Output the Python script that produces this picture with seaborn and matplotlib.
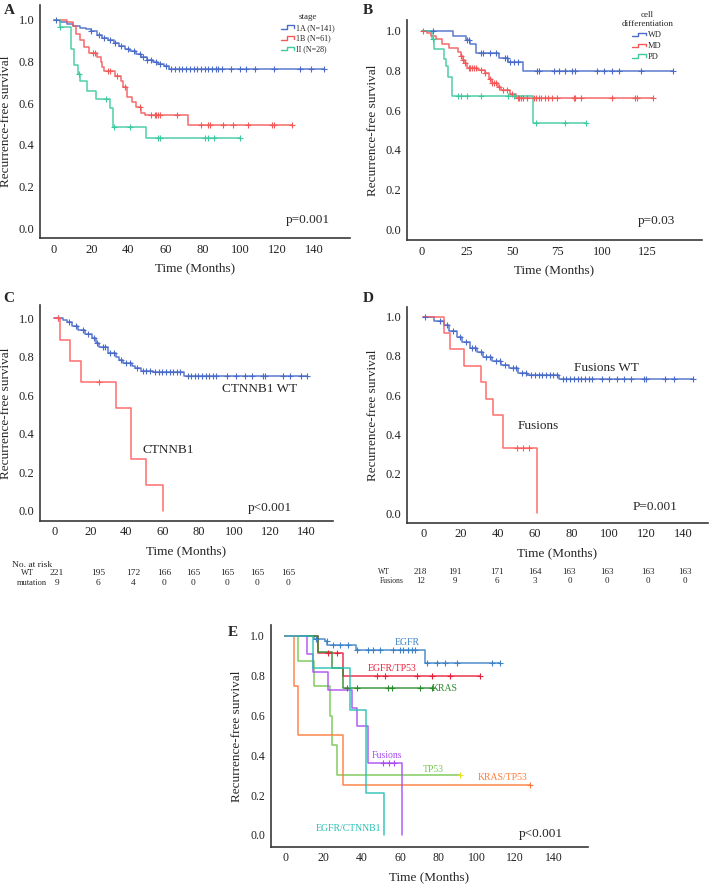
import numpy as np
import pandas as pd
import matplotlib
matplotlib.use("Agg")
import matplotlib.pyplot as plt
import seaborn as sns
from matplotlib.lines import Line2D
from matplotlib.legend_handler import HandlerBase

# ---------------- data ----------------
# Panel A: stage
a_1a_t = [0, 3, 7, 10, 14, 17, 20, 23, 26, 29, 32, 35, 38, 41, 44, 47, 50, 53, 56, 59, 62]
a_1a_s = [1.0, 0.99, 0.98, 0.97, 0.96, 0.955, 0.945, 0.93, 0.915, 0.905, 0.89, 0.875,
          0.86, 0.85, 0.835, 0.82, 0.81, 0.80, 0.79, 0.78, 0.765]
a_1a_cens = [1, 20, 24, 27, 30, 33, 36, 40, 43, 46, 48, 50, 52, 55, 57, 60, 63, 65, 67, 69,
             71, 73, 75, 77, 79, 81, 83, 85, 87, 88, 90, 95, 100, 103, 108, 118, 132, 138, 145]
a_1b_t = [0, 7, 10, 12, 14, 16, 19, 23, 25, 26, 27, 33, 36, 37, 39, 42, 44, 47, 49, 72]
a_1b_s = [1.0, 0.99, 0.97, 0.935, 0.905, 0.87, 0.84, 0.82, 0.80, 0.775, 0.755, 0.73, 0.705,
          0.68, 0.63, 0.605, 0.58, 0.555, 0.545, 0.495]
a_1b_cens = [21, 22, 29, 30, 34, 38, 46, 52, 54, 55, 56, 57, 66, 79, 83, 84, 91, 96, 104,
             117, 118, 128]
a_2_t = [0, 3, 9.3, 10.6, 13, 14, 17.8, 22.8, 30, 31.8, 49.4]
a_2_s = [1.0, 0.965, 0.86, 0.785, 0.74, 0.705, 0.66, 0.62, 0.575, 0.485, 0.435]
a_2_cens = [3, 13.5, 28, 32, 41, 56, 57, 81, 83, 86, 100]
a_labels = ["1A (N=141)", "1B (N=61)", "II (N=28)"]
a_ends = [145, 128, 100]

# Panel B: cell differentiation
b_wd_t = [0, 17.5, 24.5, 27, 30, 42.5, 48, 56]
b_wd_s = [1.0, 0.975, 0.955, 0.935, 0.89, 0.865, 0.84, 0.797]
b_wd_cens = [6, 25, 26, 33, 34, 38, 41, 46, 47, 49, 51, 53, 64, 65, 73, 76, 79, 83, 85, 97,
             101, 105, 109, 121, 139]
b_md_t = [0, 3, 5, 8, 11, 15, 20, 22, 23, 24, 25, 31, 35, 37, 39, 42, 44, 49, 52]
b_md_s = [1.0, 0.99, 0.975, 0.96, 0.935, 0.915, 0.895, 0.875, 0.855, 0.835, 0.81, 0.80,
          0.785, 0.755, 0.735, 0.718, 0.70, 0.68, 0.66]
b_md_cens = [1, 22, 23, 24, 26, 27, 28, 29, 30, 33, 35, 38, 39, 40, 41, 43, 45, 47, 50, 53,
             54, 55, 56, 58, 62, 63, 65, 66, 68, 70, 72, 75, 84, 85, 88, 105, 118, 119, 128]
b_pd_t = [0, 5.5, 7, 12.4, 13.3, 14.8, 16.6, 61.5]
b_pd_s = [1.0, 0.96, 0.91, 0.86, 0.82, 0.765, 0.67, 0.537]
b_pd_cens = [6, 20, 22, 25, 33, 48, 51, 63, 79, 91]
b_labels = ["WD", "MD", "PD"]
b_ends = [139, 128, 91]

# Panel C: CTNNB1
c_wt_t = [0, 5, 7, 10, 13, 17, 21, 23, 25, 30, 34, 36, 38, 43, 45, 48, 55, 72]
c_wt_s = [1.0, 0.99, 0.98, 0.96, 0.94, 0.92, 0.90, 0.87, 0.85, 0.82, 0.80, 0.785, 0.77,
          0.752, 0.74, 0.728, 0.72, 0.70]
c_wt_cens = [2, 8, 12, 16, 19, 22, 24, 27, 28, 31, 33, 37, 40, 42, 46, 49, 51, 53, 56, 58,
             60, 62, 64, 66, 68, 70, 74, 76, 78, 80, 82, 84, 86, 88, 90, 96, 101, 106, 110,
             116, 117, 127, 131, 137, 140]
c_mut_t = [0, 3, 9, 15, 34, 42.5, 51, 60.5]
c_mut_s = [1.0, 0.889, 0.778, 0.667, 0.533, 0.267, 0.133, 0.0]
c_mut_cens = [2, 25]
c_risk_wt = [221, 195, 172, 166, 165, 165, 165, 165]
c_risk_mut = [9, 6, 4, 0, 0, 0, 0, 0]

# Panel D: fusions
d_wt_t = [0, 6, 11, 14, 18, 21, 25, 29, 32, 37, 42, 46, 51, 56, 73]
d_wt_s = [1.0, 0.98, 0.958, 0.925, 0.895, 0.873, 0.84, 0.822, 0.797, 0.775, 0.755, 0.737,
          0.715, 0.703, 0.685]
d_wt_cens = [1, 9, 13, 16, 20, 23, 26, 28, 31, 34, 36, 39, 41, 44, 48, 50, 53, 55, 58, 60,
             62, 64, 66, 68, 70, 72, 75, 77, 79, 81, 83, 85, 87, 89, 91, 96, 100, 104, 108,
             112, 119, 120, 130, 135, 145]
d_fus_t = [0, 11.3, 14.4, 22, 31, 33.7, 37.3, 42.7, 61]
d_fus_s = [1.0, 0.917, 0.833, 0.75, 0.667, 0.583, 0.5, 0.333, 0.0]
d_fus_cens = [50.6, 53.9, 56.9]
d_risk_wt = [218, 191, 171, 164, 163, 163, 163, 163]
d_risk_fus = [12, 9, 6, 3, 0, 0, 0, 0]

# Panel E: mutation groups
e_egfr_t = [0, 15, 21, 22, 37, 73]
e_egfr_s = [1.0, 0.985, 0.973, 0.955, 0.93, 0.864]
e_egfr_cens = [16, 21.7, 25, 28.7, 33, 37.4, 43.5, 46, 49.6, 56.5, 60, 61.7, 64.3, 66, 67.8,
               73.9, 79, 83.5, 89.6, 107.8, 112]
e_et_t = [0, 17.4, 30.4]
e_et_s = [1.0, 0.913, 0.80]
e_et_cens = [22.6, 27, 47.8, 52.2, 68.7, 76.5, 86, 101.7]
e_kras_t = [0, 17.4, 24.3, 30.4]
e_kras_s = [1.0, 0.92, 0.84, 0.737]
e_kras_cens = [32.2, 37.4, 53.9, 55.7, 70.4, 76.5]
e_tp53_t = [0, 7, 15, 23.5, 24.5, 27]
e_tp53_s = [1.0, 0.875, 0.75, 0.6, 0.45, 0.30]
e_tp53_cens = [91]
e_kt_t = [0, 4.9, 7, 30]
e_kt_s = [1.0, 0.75, 0.5, 0.25]
e_kt_cens = [127.8]
e_fus_t = [0, 11.3, 14.8, 22.6, 34.8, 37.4, 43.5, 60.9]
e_fus_s = [1.0, 0.909, 0.818, 0.727, 0.636, 0.545, 0.364, 0.0]
e_fus_cens = [51, 54, 57]
e_ec_t = [0, 14.8, 34, 42.3, 51.8]
e_ec_s = [1.0, 0.84, 0.63, 0.21, 0.0]
e_ec_cens = []
e_labels = ["EGFR", "EGFR/TP53", "KRAS", "TP53", "KRAS/TP53", "Fusions", "EGFR/CTNNB1"]
e_ends = [112, 101.7, 76.5, 91, 127.8, None, None]

# ---------------- styling ----------------
sns.set_style("white")
plt.rcParams["font.family"] = ["Liberation Serif", "DejaVu Serif"]
plt.rcParams["axes.edgecolor"] = "#3a3a3a"

BLUE, RED, GREEN = "#4a6cc8", "#f25a5a", "#3ec9a0"
e_colors = ["#3c82c8", "#e8203c", "#2e8a2e", "#74c850", "#ff7a3a", "#a84ef0", "#26c0b2"]

W, H = 709, 885
fig = plt.figure(figsize=(W / 100, H / 100), dpi=100)


def px_axes(left, top, right, bottom):
    return fig.add_axes([left / W, 1 - bottom / H, (right - left) / W, (bottom - top) / H])


def draw_km(ax, curves, palette, lw=1.1, cens_palette=None):
    rows, crows = [], []
    for name, t, s, end, cens in curves:
        tt = list(t) + ([end] if end is not None else [])
        ss = list(s) + ([s[-1]] if end is not None else [])
        rows += [(name, a, b) for a, b in zip(tt, ss)]
        idx = np.searchsorted(t, cens, side="right") - 1
        crows += [(name, c, s[i]) for c, i in zip(cens, idx)]
    df = pd.DataFrame(rows, columns=["group", "time", "surv"])
    cf = pd.DataFrame(crows, columns=["group", "time", "surv"])
    sns.lineplot(data=df, x="time", y="surv", hue="group", palette=palette,
                 estimator=None, sort=False, drawstyle="steps-post", lw=lw,
                 alpha=0.9, legend=False, ax=ax)
    if len(cf):
        for name, g in cf.groupby("group", sort=False):
            col = (cens_palette or palette)[name]
            ax.scatter(g["time"], g["surv"], marker="+", s=22, color=col, linewidths=0.8,
                       zorder=3)


def style_ax(ax, xlim, ylim, xticks, ylabel_pad=5):
    ax.set_xlim(*xlim)
    ax.set_ylim(*ylim)
    ax.set_xticks(xticks)
    ax.set_yticks([0, 0.2, 0.4, 0.6, 0.8, 1.0])
    ax.set_yticklabels(["0.0", "0.2", "0.4", "0.6", "0.8", "1.0"])
    ax.tick_params(length=0, labelsize=9, pad=4, colors="#222222")
    ax.set_xlabel("Time (Months)", fontsize=9.5, labelpad=5)
    ax.set_ylabel("Recurrence-free survival", fontsize=9.5, labelpad=ylabel_pad)
    for sp in ["left", "bottom"]:
        ax.spines[sp].set_linewidth(1.2)
    sns.despine(ax=ax)


class StepHandler(HandlerBase):
    def create_artists(self, legend, orig, xd, yd, w, h, fontsize, trans):
        x0, y0 = -xd, -yd
        xs = [x0, x0 + 0.45 * w, x0 + 0.45 * w, x0 + w, x0 + w]
        ys = [y0 + 0.2 * h, y0 + 0.2 * h, y0 + 0.8 * h, y0 + 0.8 * h, y0 + 0.35 * h]
        return [Line2D(xs, ys, color=orig.get_color(), lw=1.0, transform=trans)]


def step_legend(ax, labels, colors, title, x, y, fs=6):
    handles = [Line2D([], [], color=c) for c in colors]
    leg = ax.legend(handles, labels, title=title, loc="upper left",
                    bbox_to_anchor=(x / W, 1 - y / H), bbox_transform=fig.transFigure,
                    frameon=False, fontsize=fs, title_fontsize=6.5, handlelength=1.6,
                    handletextpad=0.3, labelspacing=0.35, borderpad=0,
                    handler_map={Line2D: StepHandler()})
    leg.get_title().set_multialignment("center")
    return leg


# ---------------- Panel A ----------------
axA = px_axes(40, 5, 350, 238)
a_pal = dict(zip(a_labels, [BLUE, RED, GREEN]))
draw_km(axA, [(a_labels[0], a_1a_t, a_1a_s, a_ends[0], a_1a_cens),
              (a_labels[1], a_1b_t, a_1b_s, a_ends[1], a_1b_cens),
              (a_labels[2], a_2_t, a_2_s, a_ends[2], a_2_cens)], a_pal)
style_ax(axA, (-7.5, 159), (-0.048, 1.072), range(0, 141, 20))
axA.text(148, 0.037, "p=0.001", fontsize=9.5, ha="right", va="center")
step_legend(axA, a_labels, [BLUE, RED, GREEN], "stage", 277, 9, fs=5.8)

# ---------------- Panel B ----------------
axB = px_axes(407, 20, 702, 240)
b_pal = dict(zip(b_labels, [BLUE, RED, GREEN]))
draw_km(axB, [(b_labels[0], b_wd_t, b_wd_s, b_ends[0], b_wd_cens),
              (b_labels[1], b_md_t, b_md_s, b_ends[1], b_md_cens),
              (b_labels[2], b_pd_t, b_pd_s, b_ends[2], b_pd_cens)], b_pal)
style_ax(axB, (-8.1, 155), (-0.054, 1.054), range(0, 126, 25))
axB.text(140.3, 0.044, "p=0.03", fontsize=9.5, ha="right", va="center")
step_legend(axB, b_labels, [BLUE, RED, GREEN], "cell\ndifferentiation", 617, 7)

# ---------------- Panel C ----------------
axC = px_axes(40, 305, 333, 520.7)
c_pal = {"CTNNB1 WT": BLUE, "CTNNB1": "#ff5c5c"}
draw_km(axC, [("CTNNB1 WT", c_wt_t, c_wt_s, 140, c_wt_cens),
              ("CTNNB1", c_mut_t, c_mut_s, None, c_mut_cens)], c_pal)
style_ax(axC, (-7.9, 154.7), (-0.052, 1.069), range(0, 141, 20))
axC.text(114, 0.631, "CTNNB1 WT", fontsize=9.5, ha="center", va="center")
axC.text(63.4, 0.315, "CTNNB1", fontsize=9.5, ha="center", va="center")
axC.text(132, 0.012, "p<0.001", fontsize=9.5, ha="right", va="center")
c_risk_pos = [1.3, 24.2, 43.7, 60.9, 77, 95.8, 112.6, 129.7]
axC.text(-23.5, -0.282, "No. at risk", fontsize=6.8, ha="left", va="center")
axC.text(-14.9, -0.322, "WT", fontsize=6, ha="center", va="center")
axC.text(-12.4, -0.374, "mutation", fontsize=6, ha="center", va="center")
for xp, n1, n2 in zip(c_risk_pos, c_risk_wt, c_risk_mut):
    axC.text(xp, -0.322, str(n1), fontsize=6.8, ha="center", va="center")
    axC.text(xp, -0.374, str(n2), fontsize=6.8, ha="center", va="center")

# ---------------- Panel D ----------------
axD = px_axes(407.3, 307, 707.7, 522.7)
d_pal = {"Fusions WT": BLUE, "Fusions": "#ff5c5c"}
draw_km(axD, [("Fusions WT", d_wt_t, d_wt_s, 145, d_wt_cens),
              ("Fusions", d_fus_t, d_fus_s, None, d_fus_cens)], d_pal)
style_ax(axD, (-8.6, 153), (-0.048, 1.049), range(0, 141, 20))
axD.text(98.7, 0.737, "Fusions WT", fontsize=9.5, ha="center", va="center")
axD.text(62, 0.444, "Fusions", fontsize=9.5, ha="center", va="center")
axD.text(136.5, 0.034, "P=0.001", fontsize=9.5, ha="right", va="center")
d_risk_pos = [-1.4, 17, 39.5, 60, 78.6, 99, 120.6, 140.5]
axD.text(-21.2, -0.297, "WT", fontsize=5.5, ha="center", va="center")
axD.text(-17, -0.344, "Fusions", fontsize=5.5, ha="center", va="center")
for xp, n1, n2 in zip(d_risk_pos, d_risk_wt, d_risk_fus):
    axD.text(xp, -0.297, str(n1), fontsize=6.5, ha="center", va="center")
    axD.text(xp, -0.344, str(n2), fontsize=6.5, ha="center", va="center")

# ---------------- Panel E ----------------
axE = px_axes(270.7, 625, 588, 846.7)
e_pal = dict(zip(e_labels, e_colors))
e_cens_pal = dict(e_pal, TP53="#e6e020")
e_curves = [(e_labels[0], e_egfr_t, e_egfr_s, e_ends[0], e_egfr_cens),
            (e_labels[1], e_et_t, e_et_s, e_ends[1], e_et_cens),
            (e_labels[2], e_kras_t, e_kras_s, e_ends[2], e_kras_cens),
            (e_labels[3], e_tp53_t, e_tp53_s, e_ends[3], e_tp53_cens),
            (e_labels[4], e_kt_t, e_kt_s, e_ends[4], e_kt_cens),
            (e_labels[5], e_fus_t, e_fus_s, e_ends[5], e_fus_cens),
            (e_labels[6], e_ec_t, e_ec_s, e_ends[6], e_ec_cens)]
draw_km(axE, e_curves, e_pal, lw=1.1, cens_palette=e_cens_pal)
style_ax(axE, (-7.5, 158), (-0.059, 1.055), range(0, 141, 20))
axE.tick_params(labelsize=8.5)
e_text = [("EGFR", 63.5, 0.965, "center"), ("EGFR/TP53", 55.7, 0.837, "center"),
          ("KRAS", 76.5, 0.737, "left"), ("Fusions", 53.2, 0.397, "center"),
          ("TP53", 77.4, 0.327, "center"), ("KRAS/TP53", 113.4, 0.29, "center"),
          ("EGFR/CTNNB1", 32.9, 0.03, "center")]
for lab, xp, yp, ha in e_text:
    axE.text(xp, yp, lab, fontsize=7, color=e_pal[lab], ha=ha, va="center")
axE.text(145, 0.005, "p<0.001", fontsize=9.5, ha="right", va="center")

# ---------------- panel letters ----------------
for lab, x, y in [("A", 9, 10), ("B", 368, 10), ("C", 9, 298), ("D", 368, 298), ("E", 233, 633)]:
    fig.text(x / W, 1 - y / H, lab, fontsize=11, fontweight="bold", ha="center", va="center")

fig.savefig("out.png", dpi=100)
